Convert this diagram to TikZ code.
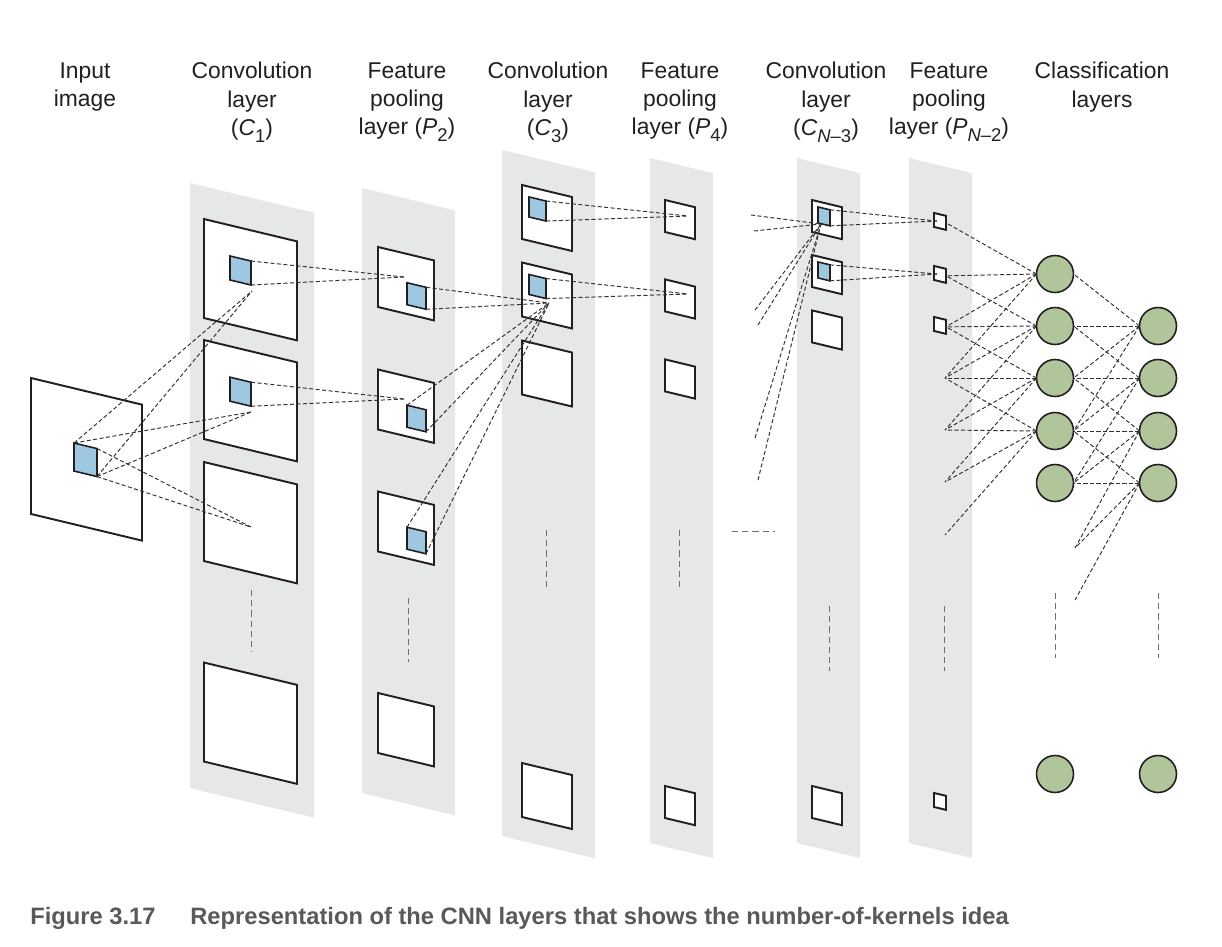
\documentclass[tikz,border=0pt]{standalone}
\usepackage{fontspec}
\setmainfont{Liberation Sans}
\newfontfamily\capfont{Liberation Sans}

\definecolor{panelgray}{RGB}{230,231,232}
\definecolor{mapline}{RGB}{35,31,32}
\definecolor{kernblue}{RGB}{157,200,224}
\definecolor{cellgreen}{RGB}{176,197,154}
\definecolor{linkgray}{RGB}{50,50,50}
\definecolor{dotgray}{RGB}{110,110,110}
\definecolor{capgray}{RGB}{88,89,91}

\newcommand{\lsub}[1]{\raisebox{-0.55ex}{\fontsize{10.5}{10.5}\selectfont #1}}

\tikzset{
	fmap/.style 2 args={draw=mapline, fill=white, line width=1.1pt,
		inner sep=0pt, outer sep=0pt, yslant=-0.24,
		minimum width=#1, minimum height=#2},
	kern/.style 2 args={draw=mapline, fill=kernblue, line width=0.9pt,
		inner sep=0pt, outer sep=0pt, yslant=-0.24,
		minimum width=#1, minimum height=#2},
	neuron/.style={circle, draw=mapline, fill=cellgreen, line width=0.9pt,
		minimum size=7.4mm, inner sep=0pt, outer sep=0pt},
	conn/.style={draw=linkgray, line width=0.55pt, dash pattern=on 2.3pt off 1.4pt},
	gap/.style={draw=dotgray, line width=0.55pt, dash pattern=on 3.5pt off 2.3pt},
	lbl/.style={align=center, anchor=north, inner sep=0pt, text=mapline,
		font=\fontsize{13}{16.2}\selectfont},
	capt/.style={anchor=base west, inner sep=0pt, text=capgray,
		font=\capfont\bfseries\fontsize{13.5}{15}\selectfont}
}

\begin{document}
\begin{tikzpicture}[x=0.02cm, y=-0.02cm]
	
	\useasboundingbox (0,0) rectangle (1222,946);
	
	% Layer panels
	\foreach \xa/\xb/\ya/\yb in {190/314/183/788, 362/455/188/793, 502/595/150/836,
		650/713/158/843, 797/860/158/843, 909/972/158/843}
	\fill[panelgray] (\xa,\ya) -- (\xb,{\ya+0.24*(\xb-\xa)})
	-- (\xb,{\yb+0.24*(\xb-\xa)}) -- (\xa,\yb) -- cycle;
	
	% Titles
	\node[lbl] (tI) at (85,62) {Input\\image};
	\node[lbl] (tC1) at (252,62) {Convolution\\layer\\(\textit{C}\lsub{1})};
	\node[lbl] (tP2) at (407,62) {Feature\\pooling\\layer (\textit{P}\lsub{2})};
	\node[lbl] (tC3) at (548,62) {Convolution\\layer\\(\textit{C}\lsub{3})};
	\node[lbl] (tP4) at (680,62) {Feature\\pooling\\layer (\textit{P}\lsub{4})};
	\node[lbl] (tCN) at (826,62) {Convolution\\layer\\(\textit{C}\lsub{\textit{N}–3})};
	\node[lbl] (tPN) at (949,62) {Feature\\pooling\\layer (\textit{P}\lsub{\textit{N}–2})};
	\node[lbl] (tF) at (1102,62) {Classification\\layers};
	
	% Input image
	\node[fmap={22.2mm}{27.2mm}] (I) at (86.5,459.3) {};
	\node[kern={4.6mm}{5.6mm}] (kI) at (85.5,459.8) {};
	
	% Feature maps
	\foreach \y [count=\i] in {279.7, 400.7, 522.7, 723.2}
	\node[fmap={18.6mm}{19.8mm}] (C1-\i) at (250.5,\y) {};
	\foreach \y [count=\i] in {283.7, 406.2, 528.2, 729.7}
	\node[fmap={11.2mm}{12mm}] (P2-\i) at (406,\y) {};
	\foreach \y [count=\i] in {218, 295.5, 373.5, 796}
	\node[fmap={10mm}{10.8mm}] (C3-\i) at (547,\y) {};
	\foreach \y [count=\i] in {219.6, 299, 379, 805.6}
	\node[fmap={6mm}{6.4mm}] (P4-\i) at (680,\y) {};
	\foreach \y [count=\i] in {219.6, 274.6, 330, 805.6}
	\node[fmap={6mm}{6.4mm}] (CN-\i) at (827,\y) {};
	\foreach \y [count=\i] in {221.4, 274.4, 325.4, 801.4}
	\node[fmap={2.4mm}{2.8mm}] (PN-\i) at (940,\y) {};
	
	% Kernels
	\foreach \y [count=\i] in {270.5, 391.7}
	\node[kern={4.2mm}{4.8mm}] (kC1-\i) at (240.5,\y) {};
	\foreach \y [count=\i] in {296, 418.5, 540.5}
	\node[kern={3.8mm}{4.4mm}] (kP2-\i) at (416.5,\y) {};
	\foreach \y [count=\i] in {209, 286.5}
	\node[kern={3.4mm}{4mm}] (kC3-\i) at (537.5,\y) {};
	\foreach \y [count=\i] in {216.4, 271.4}
	\node[kern={2.4mm}{3.2mm}] (kCN-\i) at (824,\y) {};
	
	% Classification layers
	\foreach \y [count=\i] in {274, 326, 378, 431, 483}
	\node[neuron] (F1-\i) at (1055,\y) {};
	\foreach \y [count=\i from 2] in {326, 378, 431, 483}
	\node[neuron] (F2-\i) at (1158,\y) {};
	\node[neuron] (F1-b) at (1055,774) {};
	\node[neuron] (F2-b) at (1158,774) {};
	
	% Meeting points
	\coordinate (q1a) at (252,291);
	\coordinate (q1b) at (251,412);
	\coordinate (q1c) at (251,527);
	\coordinate (q2a) at (404,277);
	\coordinate (q2b) at (404,399);
	\coordinate (q3b) at (549,303);
	\coordinate (q4a) at (688,216);
	\coordinate (q4b) at (688,294);
	\coordinate (qn) at (821,224);
	\coordinate (q5a) at (937,221);
	\coordinate (q5b) at (937,274);
	
	% Loose ends
	\foreach \x/\y [count=\i] in {751/215, 754/231, 755/310, 758/325, 755/438, 758/480}
	\coordinate (s\i) at (\x,\y);
	\coordinate (l0) at (PN-1.east);
	\coordinate (l1) at (PN-2.east);
	\coordinate (l2) at (PN-3.east);
	\foreach \y [count=\i from 3] in {378, 430, 482, 535}
	\coordinate (l\i) at (945,\y);
	\foreach \i in {1,...,5}
	\coordinate (r\i) at (F1-\i.east);
	\coordinate (r6) at (1075,548);
	\coordinate (r7) at (1075,600);
	
	% Links
	\foreach \a/\q in {north west/q1a, south east/q1a, north west/q1b,
		south east/q1b, north east/q1c, south east/q1c}
	\draw[conn] (kI.\a) -- (\q);
	
	\foreach \i/\q in {1/q2a, 2/q2b} {
		\draw[conn] (kC1-\i.north east) -- (\q);
		\draw[conn] (kC1-\i.south east) -- (\q);
	}
	
	\foreach \i/\a in {1/north east, 2/north west, 3/north west} {
		\draw[conn] (kP2-\i.\a) -- (q3b);
		\draw[conn] (kP2-\i.south east) -- (q3b);
	}
	
	\foreach \i/\q in {1/q4a, 2/q4b} {
		\draw[conn] (kC3-\i.north east) -- (\q);
		\draw[conn] (kC3-\i.south east) -- (\q);
	}
	
	\foreach \i in {1,...,6}
	\draw[conn] (s\i) -- (qn);
	
	\foreach \i/\q in {1/q5a, 2/q5b} {
		\draw[conn] (kCN-\i.north east) -- (\q);
		\draw[conn] (kCN-\i.south east) -- (\q);
	}
	
	\foreach \k in {1,...,4}
	\foreach \d in {-1,...,2} {
		\pgfmathtruncatemacro\t{\k+\d}
		\draw[conn] (F1-\k.west) -- (l\t);
	}
	
	\foreach \k in {2,...,5}
	\foreach \d in {-1,...,2} {
		\pgfmathtruncatemacro\t{\k+\d}
		\draw[conn] (F2-\k.west) -- (r\t);
	}
	
	% Ellipses
	\foreach \x/\ya/\yb in {251/590/652, 408/598/662, 546/530/591, 679/530/591,
		829/606/671, 944/606/671, 1055/593/658, 1158/593/658}
	\draw[gap] (\x,\ya) -- (\x,\yb);
	\draw[gap] (732,531) -- (775,531);
	
	% Caption
	\node[capt] (fig) at (30,924) {Figure 3.17};
	\node[capt] (cap) at (190,924) {Representation of the CNN layers that shows the number-of-kernels idea};
	
\end{tikzpicture}
\end{document}
